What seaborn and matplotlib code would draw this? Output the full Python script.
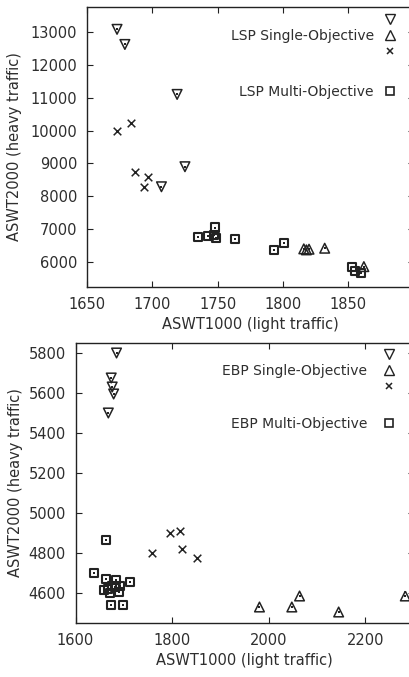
import numpy as np
import pandas as pd
import seaborn as sns
import matplotlib.pyplot as plt
from matplotlib.lines import Line2D

# LSP panel (top)
lsp_down_x = [1673, 1679, 1719, 1725, 1707]
lsp_down_y = [13080, 12620, 11100, 8900, 8290]
lsp_up_x = [1816, 1818, 1820, 1832, 1862]
lsp_up_y = [6400, 6370, 6390, 6420, 5860]
lsp_cross_x = [1673, 1684, 1687, 1697, 1694]
lsp_cross_y = [10000, 10240, 8730, 8600, 8280]
lsp_multi_x = [1735, 1743, 1748, 1747, 1749, 1763, 1793, 1801, 1853, 1855, 1860]
lsp_multi_y = [6760, 6780, 7050, 6820, 6720, 6710, 6370, 6590, 5840, 5730, 5660]

# EBP panel (bottom)
ebp_down_x = [1685, 1674, 1676, 1679, 1668]
ebp_down_y = [5800, 5675, 5630, 5595, 5500]
ebp_up_x = [1981, 2048, 2064, 2145, 2283]
ebp_up_y = [4530, 4530, 4585, 4505, 4585]
ebp_cross_x = [1759, 1796, 1817, 1821, 1851]
ebp_cross_y = [4800, 4900, 4910, 4820, 4775]
ebp_multi_x = [1663, 1639, 1663, 1683, 1713, 1659, 1668, 1675, 1692, 1671, 1690, 1682, 1673, 1699]
ebp_multi_y = [4865, 4700, 4670, 4665, 4655, 4615, 4618, 4635, 4635, 4600, 4605, 4628, 4540, 4540]

lsp_xticks = [1650, 1700, 1750, 1800, 1850]
lsp_yticks = [6000, 7000, 8000, 9000, 10000, 11000, 12000, 13000]
ebp_xticks = [1600, 1800, 2000, 2200]
ebp_yticks = [4600, 4800, 5000, 5200, 5400, 5600, 5800]

INK = '#222222'
TXT = '#2e2e2e'

sns.set_style("ticks")
plt.rcParams['font.family'] = ['DejaVu Sans']
plt.rcParams['xtick.direction'] = 'in'
plt.rcParams['ytick.direction'] = 'in'
plt.rcParams['xtick.top'] = True
plt.rcParams['ytick.right'] = True

W, H = 409, 677
fig = plt.figure(figsize=(W / 100, H / 100), dpi=100)


def px_axes(left, top, right, bottom):
    return fig.add_axes([left / W, 1 - bottom / H, (right - left) / W, (bottom - top) / H])


def draw_panel(ax, down, up, cross, multi):
    # hollow triangles and squares with a small centre dot, gnuplot style
    sns.scatterplot(x=down[0], y=down[1], marker='v', s=48, facecolor='none',
                    edgecolor=INK, linewidth=1.1, ax=ax, zorder=3)
    sns.scatterplot(x=up[0], y=up[1], marker='^', s=48, facecolor='none',
                    edgecolor=INK, linewidth=1.1, ax=ax, zorder=3)
    sns.scatterplot(x=cross[0], y=cross[1], marker='x', s=30, color=INK,
                    linewidth=1.1, ax=ax, zorder=3)
    sns.scatterplot(x=multi[0], y=multi[1], marker='s', s=34, facecolor='none',
                    edgecolor=INK, linewidth=1.5, ax=ax, zorder=3)
    dots_x = list(down[0]) + list(up[0]) + list(multi[0])
    dots_y = list(down[1]) + list(up[1]) + list(multi[1])
    sns.scatterplot(x=dots_x, y=dots_y, marker='s', s=3, color=INK,
                    linewidth=0, ax=ax, zorder=4)


def style_axes(ax, xlim, ylim, xticks, yticks, ypad):
    ax.set_xlim(*xlim)
    ax.set_ylim(*ylim)
    ax.set_xticks(xticks)
    ax.set_yticks(yticks)
    ax.tick_params(length=4, width=0.8, color=INK, labelsize=10.5,
                   labelcolor=TXT, pad=7)
    for sp in ax.spines.values():
        sp.set_color(INK)
        sp.set_linewidth(1.0)
    ax.set_xlabel('ASWT1000 (light traffic)', fontsize=10.5, color=TXT, labelpad=4)
    ax.set_ylabel('ASWT2000 (heavy traffic)', fontsize=10.5, color=TXT, labelpad=ypad)


def add_key(ax, single_label, multi_label, anchor1, anchor2, textpad):
    h_down = Line2D([], [], ls='none', marker='v', ms=7.5, mfc='none', mec=INK, mew=1.0)
    h_up = Line2D([], [], ls='none', marker='^', ms=7.5, mfc='none', mec=INK, mew=1.0)
    h_x = Line2D([], [], ls='none', marker='x', ms=5, mec=INK, mew=1.1)
    h_sq = Line2D([], [], ls='none', marker='s', ms=5.5, mfc='none', mec=INK, mew=1.2)
    leg1 = ax.legend([h_down, h_up, h_x], ['', single_label, ''], loc='upper right',
                     bbox_to_anchor=anchor1, frameon=False, markerfirst=False,
                     handlelength=0.8, handletextpad=textpad, labelspacing=0.15,
                     borderpad=0, borderaxespad=0, fontsize=10, labelcolor=TXT)
    ax.add_artist(leg1)
    ax.legend([h_sq], [multi_label], loc='upper right', bbox_to_anchor=anchor2,
              frameon=False, markerfirst=False, handlelength=0.8, handletextpad=textpad,
              borderpad=0, borderaxespad=0, fontsize=10, labelcolor=TXT)


# top panel
ax1 = px_axes(87, 7, 413.5, 287)
draw_panel(ax1, (lsp_down_x, lsp_down_y), (lsp_up_x, lsp_up_y),
           (lsp_cross_x, lsp_cross_y), (lsp_multi_x, lsp_multi_y))
style_axes(ax1, (1650, 1900), (5240, 13760), lsp_xticks, lsp_yticks, 6)
add_key(ax1, 'LSP Single-Objective', 'LSP Multi-Objective',
        (0.946, 0.98), (0.946, 0.723), 0.8)

# bottom panel
ax2 = px_axes(75.5, 343, 413.5, 623)
draw_panel(ax2, (ebp_down_x, ebp_down_y), (ebp_up_x, ebp_up_y),
           (ebp_cross_x, ebp_cross_y), (ebp_multi_x, ebp_multi_y))
style_axes(ax2, (1600, 2300), (4450, 5850), ebp_xticks, ebp_yticks, 4)
add_key(ax2, 'EBP Single-Objective', 'EBP Multi-Objective',
        (0.945, 0.982), (0.945, 0.737), 1.2)

fig.savefig('out.png', dpi=100)
